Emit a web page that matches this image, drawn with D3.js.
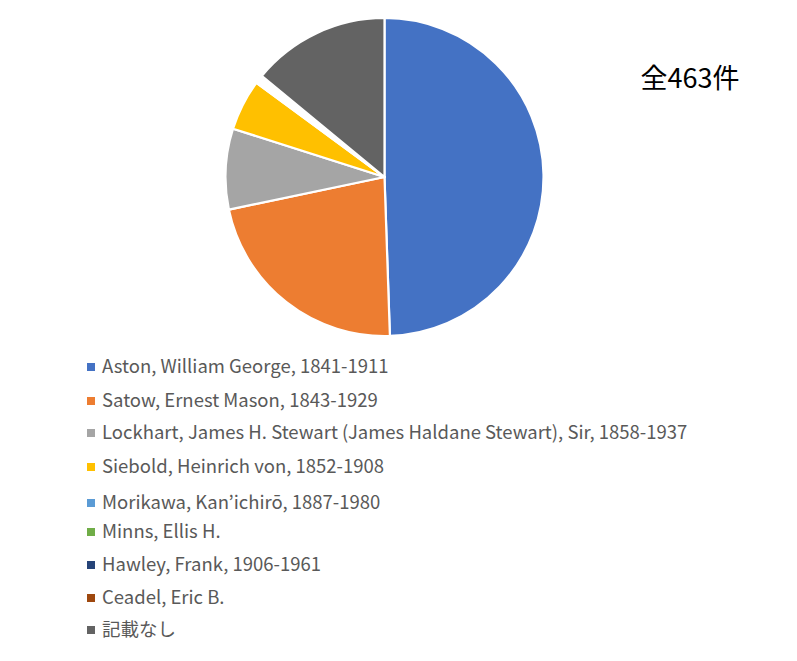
<!DOCTYPE html>
<html><head><meta charset="utf-8">
<script src="https://cdn.jsdelivr.net/npm/d3@7"></script>
<style>body{margin:0;background:#fff}</style>
</head><body>
<svg id="c" width="797" height="661"></svg>
<script>
const categories = [
  "Aston, William George, 1841-1911",
  "Satow, Ernest Mason, 1843-1929",
  "Lockhart, James H. Stewart (James Haldane Stewart), Sir, 1858-1937",
  "Siebold, Heinrich von, 1852-1908",
  "Morikawa, Kan’ichirō, 1887-1980",
  "Minns, Ellis H.",
  "Hawley, Frank, 1906-1961",
  "Ceadel, Eric B.",
  "記載なし"
];
const counts = [229, 103, 38, 24, 1, 1, 1, 1, 65];
const colors = ["#4472C4","#ED7D31","#A5A5A5","#FFC000","#5B9BD5","#70AD47","#264478","#9E480E","#636363"];
const totalLabel = "全463件";

const svg = d3.select("#c");
const font = "'Noto Sans CJK JP', 'Noto Sans', sans-serif";
const cx = 384.5, cy = 177, r = 159;

const pie = d3.pie().sort(null).value(d => d)(counts);
const arc = d3.arc().innerRadius(0).outerRadius(r);
svg.append("g").attr("transform", `translate(${cx},${cy})`)
  .selectAll("path").data(pie).join("path")
  .attr("d", arc)
  .attr("fill", (d,i) => colors[i])
  .attr("stroke", "#fff").attr("stroke-width", 2.2).attr("stroke-linejoin","round");

svg.append("text").attr("x", 690).attr("y", 88).attr("text-anchor","middle")
  .attr("font-family", font).attr("font-size", 27).attr("fill", "#000")
  .text(totalLabel);

const legendY = [367, 401, 433, 467, 503, 532, 565, 598, 630];
const lg = svg.append("g");
categories.forEach((c, i) => {
  lg.append("rect").attr("x", 87).attr("y", legendY[i] - 4).attr("width", 8).attr("height", 8)
    .attr("fill", colors[i]);
  lg.append("text").attr("x", 102).attr("y", legendY[i]).attr("dy", "0.35em")
    .attr("font-family", font).attr("font-size", 18.5).attr("fill", "#595959").text(c);
});
</script>
</body></html>
